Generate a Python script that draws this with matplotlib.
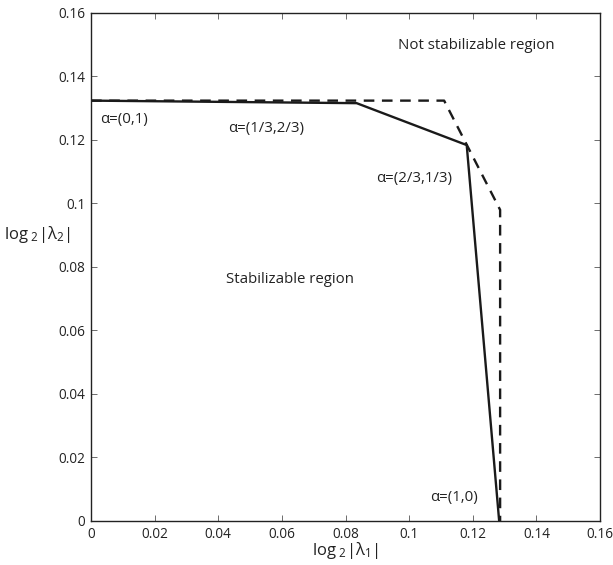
import matplotlib
matplotlib.use("Agg")
import matplotlib.pyplot as plt

# Data
# ===================================================================
solid_x = [0.0, 0.0835, 0.1181, 0.1283]
solid_y = [0.1324, 0.1316, 0.1184, 0.0]

dashed_x = [0.0, 0.111, 0.1286, 0.1286]
dashed_y = [0.1324, 0.1324, 0.098, 0.0]

ticks = [0, 0.02, 0.04, 0.06, 0.08, 0.1, 0.12, 0.14, 0.16]
tick_labels = ["0", "0.02", "0.04", "0.06", "0.08", "0.1", "0.12", "0.14", "0.16"]

# Style
# ===================================================================
plt.rcParams["font.family"] = ["Open Sans", "DejaVu Sans"]
plt.rcParams["mathtext.fontset"] = "custom"
plt.rcParams["mathtext.rm"] = "Open Sans"
plt.rcParams["mathtext.it"] = "Open Sans"
plt.rcParams["mathtext.default"] = "rm"

fig = plt.figure(figsize=(6.13, 5.65), dpi=100)
ax = fig.add_axes([0.1485, 0.0779, 0.8303, 0.8991])

ax.plot(solid_x, solid_y, color="#1a1a1a", lw=1.7, solid_joinstyle="miter")
ax.plot(dashed_x, dashed_y, color="#1a1a1a", lw=1.7, dashes=(4.5, 3.2))

ax.set_xlim(0, 0.16)
ax.set_ylim(0, 0.16)
ax.set_xticks(ticks)
ax.set_xticklabels(tick_labels)
ax.set_yticks(ticks)
ax.set_yticklabels(tick_labels)
ax.tick_params(direction="in", top=True, right=True, labelsize=9.8,
               length=4, width=0.6, color="#555555", labelcolor="#222222", pad=4)
for s in ax.spines.values():
    s.set_linewidth(1.0)
    s.set_color("#222222")

ax.set_xlabel(r"log$_{\ 2}$|$\lambda_1$|", fontsize=12, color="#222222", labelpad=-1)
ax.set_ylabel(r"log$_{\ 2}$|$\lambda_2$|", fontsize=12, color="#222222",
              rotation=0, va="center", ha="center")
ax.yaxis.set_label_coords(-0.105, 0.563)

txt = dict(fontsize=10.8, color="#222222", va="center")
ax.text(0.003, 0.1263, "\u03b1=(0,1)", **txt)
ax.text(0.0431, 0.1237, "\u03b1=(1/3,2/3)", **txt)
ax.text(0.0897, 0.1080, "\u03b1=(2/3,1/3)", **txt)
ax.text(0.1066, 0.0073, "\u03b1=(1,0)", **txt)
ax.text(0.0965, 0.1498, "Not stabilizable region", **txt)
ax.text(0.0425, 0.0762, "Stabilizable region", **txt)

fig.savefig("out.png", dpi=100)
